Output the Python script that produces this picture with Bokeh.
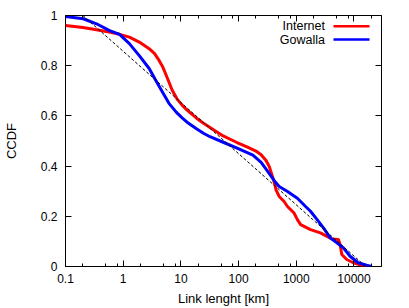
from bokeh.plotting import figure
from bokeh.models import (FixedTicker, LogAxis, LinearAxis, CustomJSTickFormatter,
                          Label, BoxAnnotation, Range1d)
from bokeh.embed import file_html
from bokeh.resources import INLINE

# ---- data ----
internet_x = [0.1, 0.2, 0.344, 0.6, 0.865, 1.28, 1.9, 2.82, 3.5, 4.19, 4.8, 5.43, 6.2,
              7.07, 8.61, 10.5, 12.8, 18.9, 25, 32, 39, 54, 92, 146, 200, 246, 299, 341,
              390, 427, 444, 505, 615, 704, 914, 1045, 1190, 1765, 2620, 3410, 4150, 5380,
              5760, 6150, 7500, 9730, 13500, 16500]
internet_y = [0.96, 0.952, 0.943, 0.933, 0.925, 0.914, 0.894, 0.868, 0.848, 0.821, 0.797,
              0.768, 0.735, 0.702, 0.667, 0.643, 0.623, 0.59, 0.57, 0.554, 0.541, 0.52,
              0.495, 0.475, 0.46, 0.445, 0.422, 0.398, 0.356, 0.325, 0.306, 0.279, 0.259,
              0.239, 0.213, 0.187, 0.167, 0.147, 0.134, 0.12, 0.11, 0.108, 0.087, 0.048,
              0.028, 0.015, 0.005, 0.0]

gowalla_x = [0.1, 0.203, 0.344, 0.582, 0.865, 1.28, 1.9, 2.82, 3.66, 4.76, 6.21, 8.3,
             10.5, 12.8, 18.9, 25, 32, 54, 92, 177, 246, 341, 415, 505, 704, 1045, 1450,
             1765, 2300, 2980, 3880, 5060, 6560, 8550, 11850, 16500, 20100]
gowalla_y = [0.996, 0.987, 0.967, 0.94, 0.925, 0.888, 0.84, 0.789, 0.742, 0.696, 0.65,
             0.615, 0.592, 0.575, 0.548, 0.53, 0.517, 0.495, 0.473, 0.444, 0.415, 0.37,
             0.342, 0.319, 0.299, 0.272, 0.239, 0.22, 0.187, 0.153, 0.114, 0.094, 0.074,
             0.041, 0.015, 0.005, 0.0]

fit_x = [0.2, 16000]
fit_y = [1.0, 0.0]

x_major = [0.1, 1, 10, 100, 1000, 10000]
x_minor = [0.2, 0.5, 0.8, 2, 5, 8, 20, 50, 80, 200, 500, 800, 2000, 5000, 8000, 20000]
y_major = [0, 0.2, 0.4, 0.6, 0.8, 1]

series_labels = ["Internet", "Gowalla"]
series_colors = ["#ff0000", "#0000ff"]

FONT = "Liberation Sans"

p = figure(width=409, height=308, x_axis_type="log",
           x_range=Range1d(0.1, 30000), y_range=Range1d(0, 1),
           output_backend="svg", toolbar_location=None,
           min_border_left=62, min_border_right=28, min_border_top=15, min_border_bottom=41)

p.xgrid.visible = False
p.ygrid.visible = False
p.outline_line_color = "black"
p.outline_line_width = 1
p.background_fill_color = "white"
p.border_fill_color = "white"

fmt = CustomJSTickFormatter(code="return String(tick);")
blank = CustomJSTickFormatter(code="return '';")


def style_axis(ax, show_labels):
    ax.axis_line_color = None
    ax.major_tick_in = 6
    ax.major_tick_out = 0
    ax.minor_tick_in = 3
    ax.minor_tick_out = 0
    ax.major_tick_line_color = "black"
    ax.minor_tick_line_color = "black"
    ax.major_label_text_font = FONT
    ax.major_label_text_font_size = "12px"
    ax.major_label_text_color = "black"
    ax.axis_label_text_font = FONT
    ax.axis_label_text_font_size = "13px"
    ax.axis_label_text_font_style = "normal"
    ax.axis_label_text_color = "black"
    if show_labels:
        ax.formatter = fmt
    else:
        ax.formatter = blank
        ax.major_label_text_font_size = "0px"
        ax.major_label_standoff = 0


xt = FixedTicker(ticks=x_major, minor_ticks=x_minor)
yt = FixedTicker(ticks=y_major, minor_ticks=[])

xa = p.xaxis[0]
xa.ticker = xt
style_axis(xa, True)
xa.axis_label = "Link lenght [km]"
xa.major_label_standoff = 7
xa.axis_label_standoff = 5

ya = p.yaxis[0]
ya.ticker = yt
style_axis(ya, True)
ya.axis_label = "CCDF"
ya.major_label_standoff = 8
ya.axis_label_standoff = 19

top = LogAxis(ticker=xt)
style_axis(top, False)
p.add_layout(top, "above")

right = LinearAxis(ticker=yt)
style_axis(right, False)
p.add_layout(right, "right")

p.line(internet_x, internet_y, line_color=series_colors[0], line_width=3)
p.line(gowalla_x, gowalla_y, line_color=series_colors[1], line_width=3)
p.line(fit_x, fit_y, line_color="black", line_width=1, line_dash="3 2")

# manual legend (text left of the line sample, like the reference)
legend_y = [240.3, 227.0]
for lab, col, ly in zip(series_labels, series_colors, legend_y):
    p.add_layout(Label(x=259.5, y=ly, x_units="screen", y_units="screen", text=lab,
                       text_align="right", text_baseline="middle",
                       text_font=FONT, text_font_size="12.5px", text_color="black"))
    p.add_layout(BoxAnnotation(left=268, right=304, bottom=ly - 1.25, top=ly + 1.25,
                               left_units="screen", right_units="screen",
                               bottom_units="screen", top_units="screen",
                               fill_color=col, fill_alpha=1.0, line_color=None))

open("out.html", "w").write(file_html(p, INLINE))
